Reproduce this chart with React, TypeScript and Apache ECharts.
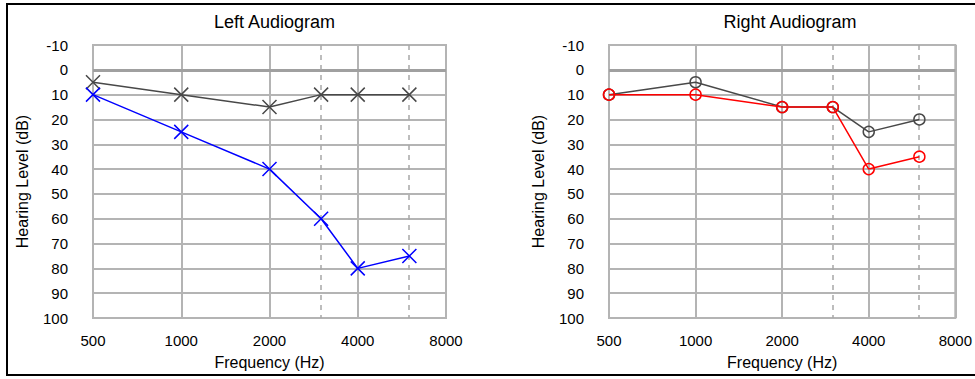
import React, { useEffect, useRef } from "react";
import * as echarts from "echarts";

const frequencies = [500, 1000, 2000, 3000, 4000, 6000];
const freqTickLabels = ["500", "1000", "2000", "4000", "8000"];
const dashedFreqs = [3000, 6000];

const leftGray = [5, 10, 15, 10, 10, 10];
const leftBlue = [10, 25, 40, 60, 80, 75];
const rightGray = [10, 5, 15, 15, 25, 20];
const rightRed = [10, 10, 15, 15, 40, 35];

const titles = ["Left Audiogram", "Right Audiogram"];

const toX = (f: number) => Math.log2(f / 500);

const FONT = "Liberation Sans, Arial, sans-serif";
const GRID_COLOR = "#b4b4b4";

export default function App() {
  const ref = useRef<HTMLDivElement>(null);

  useEffect(() => {
    document.body.style.margin = "0";
    const chart = echarts.init(ref.current!, null, { renderer: "svg" });

    const grids = [
      { left: 93, top: 45, width: 353, height: 273 },
      { left: 609, top: 45, width: 352, height: 273 },
    ];

    const xAxes = grids.map((_, i) => ({
      type: "value",
      gridIndex: i,
      min: 0,
      max: 4,
      interval: 1,
      name: "Frequency (Hz)",
      nameLocation: "middle",
      nameGap: 36,
      nameTextStyle: { fontFamily: FONT, fontSize: 16, color: "#000" },
      axisLine: { show: true, lineStyle: { color: GRID_COLOR, width: 2 } },
      axisTick: { show: false },
      axisLabel: {
        margin: 15,
        fontFamily: FONT,
        fontSize: 15,
        color: "#000",
        formatter: (v: number) => freqTickLabels[Math.round(v)] ?? "",
      },
      splitLine: { show: true, lineStyle: { color: GRID_COLOR, width: 2 } },
    }));

    const yAxes = grids.map((_, i) => ({
      type: "value",
      gridIndex: i,
      inverse: true,
      min: -10,
      max: 100,
      interval: 10,
      name: "Hearing Level (dB)",
      nameLocation: "middle",
      nameGap: 63,
      nameRotate: 90,
      nameTextStyle: { fontFamily: FONT, fontSize: 16, color: "#000" },
      axisLine: { show: true, lineStyle: { color: GRID_COLOR, width: 2 } },
      axisTick: { show: false },
      axisLabel: {
        margin: 25,
        fontFamily: FONT,
        fontSize: 15,
        color: "#000",
        padding: [0, 0, 9, 0],
      },
      splitLine: { show: true, lineStyle: { color: GRID_COLOR, width: 2 } },
    }));

    const refLines = (i: number) => ({
      type: "line",
      xAxisIndex: i,
      yAxisIndex: i,
      data: [],
      silent: true,
      markLine: {
        silent: true,
        symbol: "none",
        label: { show: false },
        data: [
          { yAxis: 0, lineStyle: { color: "#a0a0a0", width: 3, type: "solid" } },
          ...dashedFreqs.map((f) => ({
            xAxis: toX(f),
            lineStyle: { color: "#a8a8a8", width: 1.5, type: [5, 5] },
          })),
        ],
      },
    });

    const xSym = "path://M0,0L10,10M10,0L0,10";

    const mkSeries = (
      i: number,
      values: number[],
      color: string,
      symbol: string,
      size: number
    ) => ({
      type: "line",
      xAxisIndex: i,
      yAxisIndex: i,
      data: frequencies.map((f, k) => [toX(f), values[k]]),
      symbol,
      symbolSize: size,
      lineStyle: { color, width: 1.5 },
      itemStyle:
        symbol === "circle"
          ? { color: "rgba(0,0,0,0)", borderColor: color, borderWidth: 1.5 }
          : { color, borderColor: color, borderWidth: 1.5 },
      z: 5,
    });

    chart.setOption({
      animation: false,
      backgroundColor: "#fff",
      title: titles.map((t, i) => ({
        text: t,
        left: grids[i].left + grids[i].width / 2,
        top: 8,
        textAlign: "center",
        textStyle: { fontFamily: FONT, fontSize: 18, fontWeight: "normal", color: "#000" },
      })),
      grid: grids.map((g) => ({
        ...g,
        show: true,
        borderColor: GRID_COLOR,
        borderWidth: 2,
        backgroundColor: "transparent",
      })),
      xAxis: xAxes,
      yAxis: yAxes,
      graphic: [
        {
          type: "rect",
          shape: { x: 7, y: 4, width: 1000, height: 371 },
          style: { fill: "none", stroke: "#000", lineWidth: 2 },
          silent: true,
        },
      ],
      series: [
        refLines(0),
        refLines(1),
        mkSeries(0, leftGray, "#484848", xSym, 14),
        mkSeries(0, leftBlue, "#0000ff", xSym, 14),
        mkSeries(1, rightGray, "#484848", "circle", 11),
        mkSeries(1, rightRed, "#ff0000", "circle", 11),
      ],
    });

    return () => chart.dispose();
  }, []);

  return <div ref={ref} style={{ width: 975, height: 379 }} />;
}
